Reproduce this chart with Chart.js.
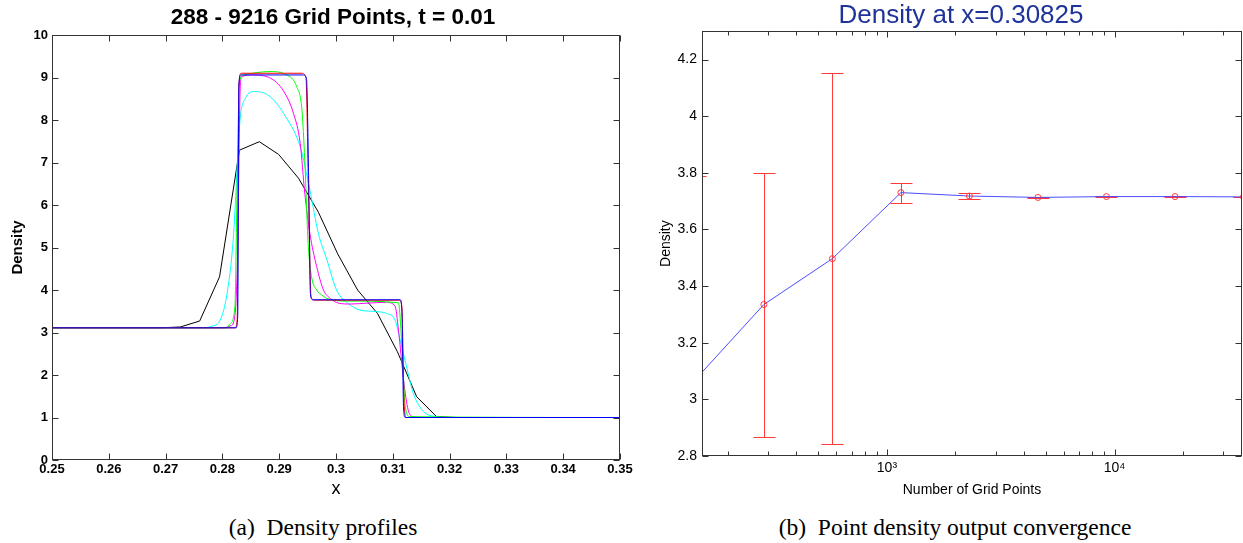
<!DOCTYPE html>
<html>
<head>
<meta charset="utf-8">
<script src="https://cdn.jsdelivr.net/npm/chart.js@4/dist/chart.umd.min.js"></script>
<style>
  body { margin: 0; width: 1243px; height: 543px; overflow: hidden; background: #fff; position: relative; }
  .box { position: absolute; top: 0; }
  .caption { position: absolute; top: 513px; font-family: "Liberation Serif", "Times New Roman", serif; font-size: 23.5px; line-height: 28px; text-align: center; white-space: nowrap; color: #000; }
  .caption span { margin-right: 0.5em; }
</style>
</head>
<body>
<div class="box" style="left:0;width:666px;height:505px"><canvas id="profiles" width="666" height="505"></canvas></div>
<div class="box" style="left:640px;width:642px;height:505px"><canvas id="convergence" width="642" height="505"></canvas></div>
<div class="caption" style="left:123px;width:400px"><span>(a)</span>Density profiles</div>
<div class="caption" style="left:755px;width:400px"><span>(b)</span>Point density output convergence</div>

<script>
// ---- (a) density profiles, one x/rho pair per resolution
const x288 = [0.25, 0.2691, 0.2726, 0.2760, 0.2795, 0.2830, 0.2865, 0.2899, 0.2934, 0.2969, 0.3003, 0.3038, 0.3073, 0.3108, 0.3142, 0.3177, 0.3212, 0.35];
const rho288 = [3.11, 3.11, 3.13, 3.27, 4.31, 7.29, 7.49, 7.19, 6.63, 5.83, 4.85, 4.0, 3.45, 2.55, 1.49, 1.02, 1.0, 1.0];

const x576 = [0.25, 0.2765, 0.2782, 0.2796, 0.2808, 0.2819, 0.2831, 0.2840, 0.2857, 0.2884, 0.2913, 0.2937, 0.2954, 0.2969, 0.2984, 0.3001, 0.3025, 0.3042, 0.3072, 0.3089, 0.3104, 0.3113, 0.3127, 0.3136, 0.3154, 0.3177, 0.3195, 0.35];
const rho576 = [3.11, 3.11, 3.15, 3.29, 3.9, 5.18, 8.0, 8.5, 8.67, 8.55, 8.04, 7.37, 6.35, 5.33, 4.71, 4.0, 3.65, 3.53, 3.49, 3.45, 3.29, 2.82, 2.04, 1.57, 1.14, 1.02, 1.0, 1.0];

const x1152 = [0.25, 0.2800, 0.2815, 0.2822, 0.2827, 0.2831, 0.2834, 0.2854, 0.2890, 0.2910, 0.2925, 0.2937, 0.2945, 0.2954, 0.2966, 0.2978, 0.2990, 0.3005, 0.3025, 0.3054, 0.3089, 0.3104, 0.3110, 0.3119, 0.3127, 0.3136, 0.3158, 0.35];
const rho1152 = [3.11, 3.11, 3.16, 3.4, 5.0, 8.6, 9.02, 9.06, 8.94, 8.63, 8.16, 7.45, 6.28, 5.33, 4.55, 4.0, 3.8, 3.69, 3.67, 3.69, 3.71, 3.62, 3.06, 1.88, 1.18, 1.02, 1.0, 1.0];

const x2304 = [0.25, 0.2808, 0.2813, 0.2822, 0.2826, 0.2830, 0.2837, 0.2884, 0.2913, 0.2931, 0.2940, 0.2945, 0.2951, 0.2957, 0.2966, 0.2977, 0.2984, 0.3019, 0.3110, 0.3116, 0.3122, 0.3130, 0.35];
const rho2304 = [3.11, 3.11, 3.2, 3.6, 6.5, 8.9, 9.06, 9.14, 9.06, 8.78, 8.24, 7.06, 5.10, 4.31, 4.0, 3.86, 3.80, 3.74, 3.70, 2.67, 1.25, 1.02, 1.0];

const x4608 = [0.25, 0.2822, 0.2826, 0.2829, 0.2833, 0.2940, 0.2947, 0.2952, 0.2956, 0.2962, 0.3112, 0.3116, 0.3120, 0.3124, 0.35];
const rho4608 = [3.11, 3.11, 3.3, 8.8, 9.1, 9.1, 9.0, 6.0, 3.85, 3.76, 3.76, 3.6, 1.3, 1.0, 1.0];

const x9216 = [0.25, 0.2824, 0.2827, 0.2829, 0.2832, 0.2942, 0.2948, 0.2952, 0.2955, 0.2959, 0.3113, 0.3116, 0.3119, 0.3122, 0.35];
const rho9216 = [3.11, 3.11, 3.4, 8.8, 9.06, 9.06, 8.98, 6.5, 3.9, 3.77, 3.77, 3.5, 1.2, 1.0, 1.0];

const profileX = [0.25, 0.26, 0.27, 0.28, 0.29, 0.30, 0.31, 0.32, 0.33, 0.34, 0.35];
const profileY = [0, 1, 2, 3, 4, 5, 6, 7, 8, 9, 10];

// ---- (b) point density at x=0.30825
const gridPoints = [144, 288, 576, 1152, 2304, 4608, 9216, 18432, 36864];
const pointDensity = [3.07, 3.335, 3.497, 3.730, 3.718, 3.713, 3.716, 3.716, 3.715];
const errLow = [2.35, 2.868, 2.843, 3.694, 3.706, 3.710, 3.715, 3.715, 3.714];
const errHigh = [3.79, 3.800, 4.151, 3.765, 3.730, 3.716, 3.717, 3.717, 3.716];

const gridTicks = [200, 300, 400, 500, 600, 700, 800, 900, 1000, 2000, 3000, 4000, 5000, 6000, 7000, 8000, 9000, 10000, 20000, 30000];
const gridTickLabels = { 1000: "10\u00b3", 10000: "10\u2074" };
const densityTicks = [2.8, 3, 3.2, 3.4, 3.6, 3.8, 4, 4.2];

Chart.defaults.font.family = "'Liberation Sans', Arial, Helvetica, sans-serif";
Chart.defaults.color = "#000";

// matlab style box with inward ticks on all four sides
const frameTicks = {
  id: "frameTicks",
  afterDraw(chart, args, opts) {
    const { ctx, chartArea: a, scales: { x, y } } = chart;
    const L = Math.round(a.left) + 0.5, R = Math.round(a.right) - 0.5;
    const T = Math.round(a.top) + 0.5, B = Math.round(a.bottom) - 0.5;
    ctx.save();
    ctx.strokeStyle = opts.color;
    ctx.lineWidth = 1;
    ctx.strokeRect(L, T, R - L, B - T);
    ctx.beginPath();
    x.ticks.forEach(t => {
      const px = Math.round(x.getPixelForValue(t.value)) + 0.5;
      let len = opts.len;
      if (x.type === "logarithmic" && !Number.isInteger(Math.log10(t.value))) len = opts.minorLen;
      ctx.moveTo(px, B); ctx.lineTo(px, B - len);
      ctx.moveTo(px, T); ctx.lineTo(px, T + len);
    });
    y.ticks.forEach(t => {
      const py = Math.round(y.getPixelForValue(t.value)) + 0.5;
      ctx.moveTo(L, py); ctx.lineTo(L + opts.len, py);
      ctx.moveTo(R, py); ctx.lineTo(R - opts.len, py);
    });
    ctx.stroke();
    ctx.restore();
  }
};

const errorBars = {
  id: "errorBars",
  beforeDatasetsDraw(chart) {
    const { ctx, chartArea: a, scales: { x, y } } = chart;
    ctx.save();
    ctx.beginPath();
    ctx.rect(a.left, a.top, a.right - a.left, a.bottom - a.top);
    ctx.clip();
    ctx.strokeStyle = "#ff3a3a";
    ctx.lineWidth = 1;
    ctx.beginPath();
    gridPoints.forEach((n, i) => {
      const px = Math.round(x.getPixelForValue(n)) + 0.5;
      const lo = Math.round(y.getPixelForValue(errLow[i])) + 0.5;
      const hi = Math.round(y.getPixelForValue(errHigh[i])) + 0.5;
      ctx.moveTo(px, lo); ctx.lineTo(px, hi);
      ctx.moveTo(px - 11, lo); ctx.lineTo(px + 11, lo);
      ctx.moveTo(px - 11, hi); ctx.lineTo(px + 11, hi);
    });
    ctx.stroke();
    ctx.restore();
  }
};

function profile(label, xs, ys, color, order, smooth) {
  return {
    label,
    data: xs.map((x, i) => ({ x, y: ys[i] })),
    borderColor: color,
    borderWidth: 1,
    pointRadius: 0,
    order,
    cubicInterpolationMode: smooth ? "monotone" : "default",
    tension: smooth ? 0.4 : 0
  };
}

// empty axis on the right so the title centres over the same span as the original
function spacer(width) {
  return {
    position: "right",
    display: true,
    grid: { display: false, drawTicks: false },
    border: { display: false },
    ticks: { display: false },
    afterFit: s => { s.width = width; }
  };
}

new Chart(document.getElementById("profiles"), {
  type: "line",
  data: {
    datasets: [
      profile("288", x288, rho288, "#000000", 5, false),
      profile("576", x576, rho576, "#00ffff", 4, true),
      profile("1152", x1152, rho1152, "#ff00ff", 3, true),
      profile("2304", x2304, rho2304, "#00ff00", 2, true),
      profile("4608", x4608, rho4608, "#ff0000", 1, true),
      profile("9216", x9216, rho9216, "#0000ff", 0, true)
    ]
  },
  options: {
    responsive: false,
    animation: false,
    layout: { padding: 0 },
    plugins: {
      legend: { display: false },
      tooltip: { enabled: false },
      title: {
        display: true,
        text: "288 - 9216 Grid Points, t = 0.01",
        font: { size: 22.5, weight: "bold" },
        color: "#000",
        padding: { top: 4, bottom: 4 }
      },
      frameTicks: { color: "#333", len: 6, minorLen: 6 }
    },
    scales: {
      x: {
        type: "linear",
        min: 0.25,
        max: 0.35,
        afterBuildTicks: s => { s.ticks = profileX.map(v => ({ value: v })); },
        afterFit: s => { s.height = 45; },
        grid: { display: false, drawTicks: false },
        border: { display: false },
        ticks: { autoSkip: false, maxRotation: 0, padding: 2, font: { size: 13, weight: "bold" }, callback: v => String(+v.toFixed(2)) },
        title: { display: true, text: "x", font: { size: 18 }, padding: { top: 0, bottom: 5 } }
      },
      y: {
        min: 0,
        max: 10,
        afterBuildTicks: s => { s.ticks = profileY.map(v => ({ value: v })); },
        afterFit: s => { s.width = 52; },
        grid: { display: false, drawTicks: false },
        border: { display: false },
        ticks: { padding: 4, font: { size: 13, weight: "bold" } },
        title: { display: true, text: "Density", font: { size: 15, weight: "bold" }, padding: { top: 9, bottom: 0 } }
      },
      pad: spacer(46)
    }
  },
  plugins: [frameTicks]
});

new Chart(document.getElementById("convergence"), {
  type: "line",
  data: {
    datasets: [{
      label: "Density",
      data: gridPoints.map((n, i) => ({ x: n, y: pointDensity[i] })),
      borderColor: "#4d4dff",
      borderWidth: 1,
      tension: 0,
      pointRadius: 3,
      pointBorderWidth: 1,
      pointBorderColor: "#ff3a3a",
      pointBackgroundColor: "rgba(0,0,0,0)"
    }]
  },
  options: {
    responsive: false,
    animation: false,
    layout: { padding: 0 },
    plugins: {
      legend: { display: false },
      tooltip: { enabled: false },
      title: {
        display: true,
        text: "Density at x=0.30825",
        font: { size: 26, weight: "normal" },
        color: "#1f3399",
        padding: { top: 0, bottom: 0 }
      },
      frameTicks: { color: "#333", len: 6, minorLen: 4 }
    },
    scales: {
      x: {
        type: "logarithmic",
        min: 154,
        max: 36300,
        afterBuildTicks: s => { s.ticks = gridTicks.map(v => ({ value: v })); },
        afterFit: s => { s.height = 49; },
        grid: { display: false, drawTicks: false },
        border: { display: false },
        ticks: { autoSkip: false, maxRotation: 0, padding: 4, font: { size: 14 }, callback: v => gridTickLabels[v] || "" },
        title: { display: true, text: "Number of Grid Points", font: { size: 14 }, padding: { top: 0, bottom: 6.6 } }
      },
      y: {
        min: 2.8,
        max: 4.3,
        afterBuildTicks: s => { s.ticks = densityTicks.map(v => ({ value: v })); },
        afterFit: s => { s.width = 62; },
        grid: { display: false, drawTicks: false },
        border: { display: false },
        ticks: { padding: 5, font: { size: 14 }, callback: v => String(+v.toFixed(1)) },
        title: { display: true, text: "Density", font: { size: 14 }, padding: { top: 17.6, bottom: 0 } }
      },
      pad: spacer(40)
    }
  },
  plugins: [frameTicks, errorBars]
});
</script>
</body>
</html>
